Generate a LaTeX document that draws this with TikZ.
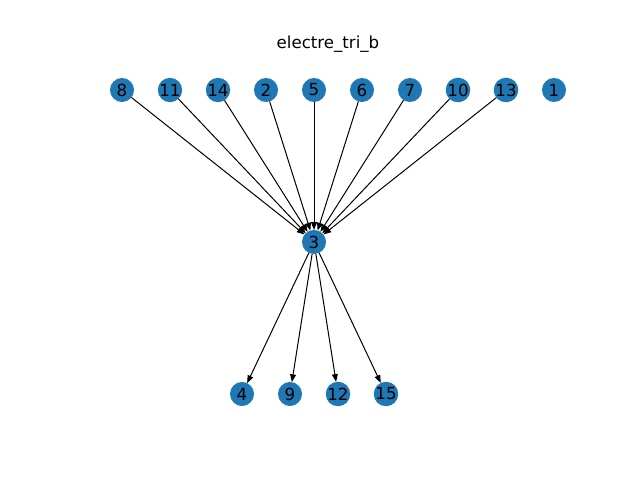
\documentclass[tikz,border=0pt]{standalone}
\usepackage{fontspec}
\setmainfont{DejaVu Sans}
\usetikzlibrary{arrows.meta}
\definecolor{nxblue}{HTML}{1F77B4}
\tikzset{
  vtx/.style={circle, fill=nxblue, minimum size=0.24in, inner sep=0pt, outer sep=0pt, font=\fontsize{12}{14}\selectfont, text=black},
  edge/.style={draw=black, line width=0.72pt, -{Triangle[length=5.6pt, width=4.2pt]}, shorten >=0pt},
}
\begin{document}
\begin{tikzpicture}[x=0.01in, y=-0.01in]
\useasboundingbox (0,0) rectangle (640,480);
\fill[white] (0,0) rectangle (640,480);
\node[font=\fontsize{12}{14}\selectfont] (title) at (328,44) {electre\_tri\_b};
\node[vtx] (n8) at (122,90) {8};
\node[vtx] (n11) at (170,90) {11};
\node[vtx] (n14) at (218,90) {14};
\node[vtx] (n2) at (266,90) {2};
\node[vtx] (n5) at (314,90) {5};
\node[vtx] (n6) at (362,90) {6};
\node[vtx] (n7) at (410,90) {7};
\node[vtx] (n10) at (458,90) {10};
\node[vtx] (n13) at (506,90) {13};
\node[vtx] (n1) at (554,90) {1};
\node[vtx] (n3) at (314,242) {3};
\node[vtx] (n4) at (242,394) {4};
\node[vtx] (n9) at (290,394) {9};
\node[vtx] (n12) at (338,394) {12};
\node[vtx] (n15) at (386,394) {15};
\foreach \s in {n8,n11,n14,n2,n5,n6,n7,n10,n13}{
  \draw[edge] (\s) -- (n3);
}
\foreach \t in {n4,n9,n12,n15}{
  \draw[edge] (n3) -- (\t);
}
\end{tikzpicture}
\end{document}
